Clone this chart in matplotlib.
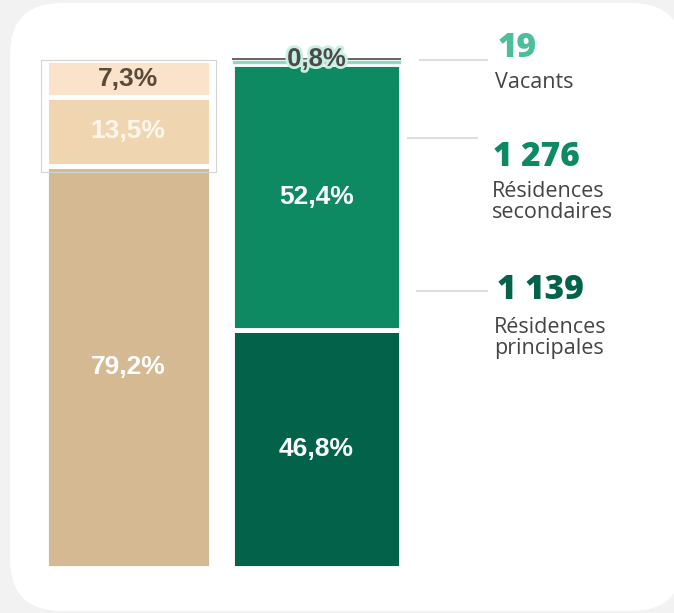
import matplotlib
matplotlib.use("Agg")
import matplotlib.pyplot as plt
from matplotlib.patches import FancyBboxPatch, Rectangle
import matplotlib.patheffects as pe

# ---- data ----
left_labels = ["79,2%", "13,5%", "7,3%"]
left_values = [79.2, 13.5, 7.3]
right_labels = ["46,8%", "52,4%", "0,8%"]
right_values = [46.8, 52.4, 0.8]
counts = ["1 139", "1 276", "19"]
categories = ["Résidences\nprincipales", "Résidences\nsecondaires", "Vacants"]

left_colors = ["#d4b993", "#efd6b0", "#fbe2cb"]
right_colors = ["#03634a", "#0e8a62", "#8fd9bd"]
left_text_colors = ["white", "#fdf6ec", "#5a4a3a"]
count_colors = ["#03634a", "#0e8a62", "#4cbf9a"]

W, H = 674, 613
fig = plt.figure(figsize=(W / 100, H / 100), dpi=100)
fig.patch.set_facecolor("#f2f2f2")

def fx(px):
    return px / W

def fy(py):
    return 1 - py / H

# background card in pixel coords
bg = fig.add_axes([0, 0, 1, 1], zorder=-1)
bg.set_xlim(0, W)
bg.set_ylim(H, 0)
bg.axis("off")
bg.add_patch(FancyBboxPatch((10, 3), 673, 608,
                            boxstyle="round,pad=0,rounding_size=52",
                            facecolor="white", edgecolor="none"))

# axes: x in pixels, y in percent
ppp = 5.08  # pixels per percent
y0_px = 568
ax = fig.add_axes([0, 0, 1, 1], zorder=1)
ax.set_xlim(0, W)
ax.set_ylim(-(H - y0_px) / ppp, y0_px / ppp)
ax.axis("off")
ax.patch.set_alpha(0)

def py2d(py):
    return (y0_px - py) / ppp

# thin frame around top two left segments
ax.add_patch(Rectangle((41, py2d(172)), 175, py2d(60) - py2d(172),
                       facecolor="none", edgecolor="#d4d4d4", lw=0.8, zorder=4))

lx, lw = 128, 165
rx, rw = 316.5, 169
bottom = 0
for i, (v, c, lab, tc) in enumerate(zip(left_values, left_colors, left_labels, left_text_colors)):
    ax.bar(lx, v, bottom=bottom, width=lw, color=c, edgecolor="white", lw=3.5, zorder=2)
    yc = bottom + v / 2
    ax.text(lx, yc, lab, ha="center", va="center", fontsize=19, fontweight="bold",
            family="Liberation Sans", color=tc, zorder=5)
    bottom += v

bottom = 0
for i, (v, c, lab) in enumerate(zip(right_values, right_colors, right_labels)):
    ax.bar(rx, v, bottom=bottom, width=rw, color=c, edgecolor="white",
           lw=3.5 if i < 2 else 0.5, zorder=2)
    yc = bottom + v / 2
    if i < 2:
        ax.text(rx, yc, lab, ha="center", va="center", fontsize=19, fontweight="bold",
                family="Liberation Sans", color="white", zorder=5)
    else:
        ax.hlines(py2d(58.5), rx - rw / 2, rx + rw / 2, color="#4a4a4a", lw=1.2, zorder=3)
        ax.text(rx, py2d(59), lab, ha="center", va="center", fontsize=18.5, fontweight="bold",
                family="Liberation Sans", color="#4a4a4a", zorder=5,
                path_effects=[pe.withStroke(linewidth=4, foreground="#c9efe1")])
    bottom += v

# leader lines
for (x1, x2, yy) in [(417, 487, 291), (408, 477, 138), (420, 487, 60)]:
    ax.plot([x1, x2], [py2d(yy), py2d(yy)], color="#dedede", lw=1.5, zorder=1)

# right annotations
num_pos = [(497, 290), (493, 157), (498, 48)]
lab_pos = [(494, 338), (492, 202), (495, 83)]
for cnt, cat, col, (nx, ny), (tx, ty) in zip(counts, categories, count_colors, num_pos, lab_pos):
    fig.text(fx(nx), fy(ny), cnt, ha="left", va="center", fontsize=24,
             fontweight="heavy", family="Open Sans", color=col)
    fig.text(fx(tx), fy(ty), cat, ha="left", va="center", fontsize=15.5,
             family="Open Sans", color="#444444", linespacing=1.05)

fig.savefig("out.png", dpi=100, facecolor=fig.get_facecolor())
